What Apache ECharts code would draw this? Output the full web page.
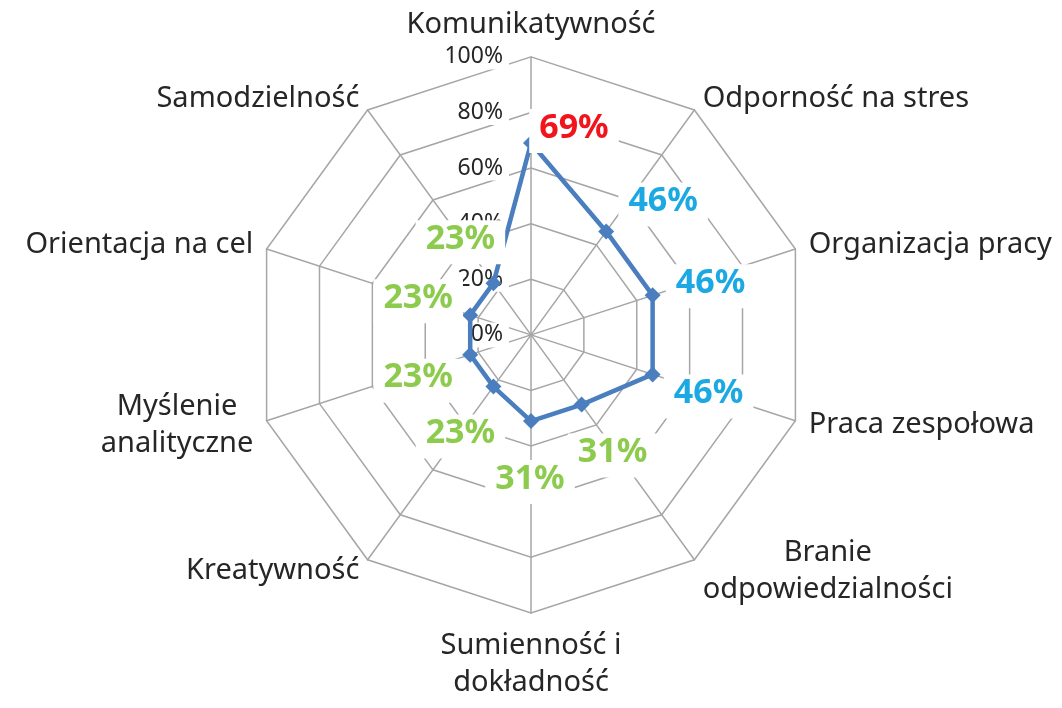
<!DOCTYPE html>
<html>
<head>
<meta charset="utf-8">
<script src="https://cdn.jsdelivr.net/npm/echarts@6/dist/echarts.min.js"></script>
<style>
html,body{margin:0;padding:0;background:#ffffff;}
#chart{width:1062px;height:708px;}
</style>
</head>
<body>
<div id="chart"></div>
<script>
// ---- data (clockwise from the top) ----
const categories = [
  'Komunikatywność',
  'Odporność na stres',
  'Organizacja pracy',
  'Praca zespołowa',
  'Branie\nodpowiedzialności',
  'Sumienność i\ndokładność',
  'Kreatywność',
  'Myślenie\nanalityczne',
  'Orientacja na cel',
  'Samodzielność'
];
const values = [69, 46, 46, 46, 31, 31, 23, 23, 23, 23];
const axisMin = 0;
const axisMax = 100;
const axisInterval = 20;

// ---- layout (label offsets from each point, px; same order as categories) ----
const labelOffsets = [
  [43, -12], [57, -27], [58, -9], [56, 22], [31, 51],
  [-1, 61], [-33, 50], [-52, 26], [-52, -14], [-33, -41]
];

// ECharts radar runs counter-clockwise: reorder so the picture reads clockwise
const n = categories.length;
const order = [0];
for (let i = n - 1; i >= 1; i--) order.push(i);
const ordCats = order.map(i => categories[i]);
const ordVals = order.map(i => values[i]);
const ordOffsets = order.map(i => labelOffsets[i]);

const FONT = 'Noto Sans';
const lineBlue = '#4A7EBF';
const gridGray = '#A6A6A6';

function labelClass(v) {
  if (v >= 60) return 'r';
  if (v >= 40) return 'b';
  return 'g';
}

const tokenBase = {
  fontFamily: FONT, fontSize: 34, fontWeight: 'bold',
  backgroundColor: '#ffffff', padding: [2, 10, 8, 10]
};

const chart = echarts.init(document.getElementById('chart'), null, {renderer: 'canvas'});

const indicator = ordCats.map((name, i) => {
  const ind = {name: name, min: axisMin, max: axisMax};
  if (i === 0) ind.axisLabel = {show: true};
  return ind;
});

const option = {
  backgroundColor: '#ffffff',
  animation: false,
  radar: {
    center: ['50%', '47.3%'],
    radius: 278,
    startAngle: 90,
    shape: 'polygon',
    splitNumber: (axisMax - axisMin) / axisInterval,
    indicator: indicator,
    axisName: {
      color: '#262626',
      fontFamily: FONT,
      fontSize: 29,
      formatter: function (name) {
        return name.split('\n').map(s => '{a|' + s + '}').join('\n');
      },
      rich: {
        a: {align: 'center', fontFamily: FONT, fontSize: 29, color: '#262626', lineHeight: 37}
      }
    },
    nameGap: 14,
    axisLine: {show: true, lineStyle: {color: gridGray, width: 1.5}},
    splitLine: {show: true, lineStyle: {color: gridGray, width: 1.5}},
    splitArea: {show: false},
    axisTick: {show: false},
    axisLabel: {
      show: false,
      formatter: '{value}%',
      fontFamily: FONT,
      fontSize: 23,
      color: '#262626',
      backgroundColor: '#ffffff',
      padding: [1, 6, 1, 4],
      margin: 22
    }
  },
  series: [
    {
      type: 'radar',
      z: 3,
      symbol: 'diamond',
      symbolSize: 16,
      lineStyle: {color: lineBlue, width: 4.5},
      itemStyle: {color: lineBlue},
      label: {show: false},
      emphasis: {disabled: true},
      data: [{value: ordVals, name: 'Wynik'}]
    },
    {
      type: 'radar',
      z: 4,
      silent: true,
      symbol: 'circle',
      symbolSize: 1,
      itemStyle: {color: 'rgba(0,0,0,0)'},
      lineStyle: {width: 0, opacity: 0},
      emphasis: {disabled: true},
      data: ordOffsets.map((off, k) => ({
        value: ordVals,
        label: {
          show: true,
          position: 'inside',
          offset: off,
          formatter: function (p) {
            if (p.dimensionIndex !== k) return '';
            return '{' + labelClass(p.value) + '|' + p.value + '%}';
          },
          rich: {
            r: Object.assign({color: '#F2141C'}, tokenBase),
            b: Object.assign({color: '#1CA9E3'}, tokenBase),
            g: Object.assign({color: '#8DCB4E'}, tokenBase)
          }
        }
      }))
    }
  ]
};

chart.setOption(option);
</script>
</body>
</html>
